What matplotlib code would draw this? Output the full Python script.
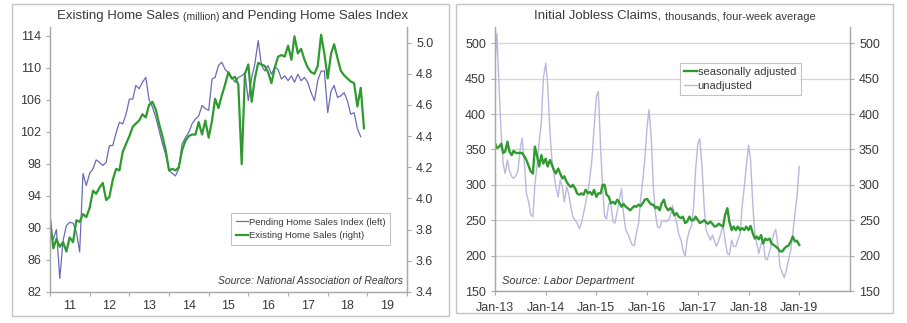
import numpy as np
import pandas as pd
import matplotlib
matplotlib.use("Agg")
import matplotlib.pyplot as plt
import matplotlib.dates as mdates
from matplotlib.patches import Rectangle
from matplotlib.text import Annotation

plt.rcParams['font.family'] = ['Liberation Sans', 'DejaVu Sans']

# Pending home sales index (left scale), monthly from Jan 2011
pending = [89.7, 88.6, 89.8, 83.7, 88.4, 90.3, 90.7, 90.6, 89.5, 87.0,
           96.8, 95.3, 96.8, 97.4, 98.5, 98.2, 97.8, 98.2, 100.3, 100.3,
           101.9, 103.2, 103.0, 104.2, 106.1, 106.1, 107.8, 107.4, 108.2, 108.8,
           106.0, 105.1, 103.8, 102.2, 100.5, 99.2, 97.2, 96.8, 96.5, 97.4,
           100.5, 101.3, 101.9, 103.0, 103.6, 104.0, 105.3, 104.9, 104.7, 108.6,
           108.8, 110.3, 110.7, 109.8, 109.4, 108.8, 108.2, 108.8, 109.0, 109.4,
           105.9, 108.8, 110.5, 113.4, 110.3, 109.6, 110.3, 109.2, 110.1, 109.8,
           108.6, 109.0, 108.4, 109.0, 108.2, 109.2, 108.4, 108.8, 108.2, 106.9,
           105.9, 108.4, 109.6, 109.6, 104.4, 107.1, 107.8, 106.3, 106.5, 106.9,
           105.9, 104.2, 104.4, 102.4, 101.4]

# Existing home sales, million (right scale), monthly from Jan 2011
existing = [3.87, 3.68, 3.74, 3.69, 3.72, 3.66, 3.75, 3.72, 3.86, 3.85,
            3.90, 3.88, 3.94, 4.05, 4.03, 4.07, 4.10, 3.99, 4.01, 4.12,
            4.19, 4.18, 4.30, 4.35, 4.40, 4.46, 4.48, 4.50, 4.54, 4.52,
            4.60, 4.62, 4.57, 4.48, 4.40, 4.31, 4.18, 4.19, 4.18, 4.20,
            4.31, 4.37, 4.40, 4.41, 4.41, 4.49, 4.41, 4.50, 4.39, 4.50,
            4.64, 4.58, 4.66, 4.73, 4.81, 4.77, 4.78, 4.73, 4.22, 4.80,
            4.86, 4.62, 4.77, 4.87, 4.86, 4.85, 4.81, 4.74, 4.84, 4.91,
            4.92, 4.91, 4.98, 4.89, 5.04, 4.93, 4.96, 4.89, 4.84, 4.81,
            4.80, 4.85, 5.05, 4.93, 4.77, 4.93, 4.99, 4.90, 4.82, 4.79,
            4.77, 4.75, 4.74, 4.59, 4.71, 4.45]

# Initial jobless claims, thousands, 4-wk avg, twice a month from Jan 2013
claims_sa = [359, 352, 354, 358, 345, 347, 361, 347, 342, 348, 345, 345,
             345, 345, 340, 335, 326, 319, 316, 354, 340, 326, 342, 330,
             337, 326, 335, 328, 321, 316, 323, 316, 309, 312, 304, 300,
             297, 300, 295, 288, 286, 288, 286, 293, 288, 290, 286, 293,
             283, 288, 288, 300, 300, 286, 283, 274, 276, 273, 279, 275,
             269, 273, 269, 267, 264, 267, 270, 269, 272, 270, 274, 279,
             280, 276, 272, 272, 267, 269, 264, 274, 279, 269, 264, 267,
             264, 257, 260, 255, 253, 255, 246, 248, 255, 250, 250, 255,
             250, 246, 248, 250, 247, 245, 248, 245, 241, 242, 245, 243,
             241, 257, 267, 248, 236, 241, 236, 241, 236, 239, 236, 241,
             236, 242, 231, 224, 227, 223, 229, 217, 224, 222, 224, 217,
             215, 213, 210, 206, 206, 210, 213, 214, 220, 227, 220, 221,
             215]
claims_nsa = [470, 514, 430, 370, 330, 316, 335, 320, 312, 309, 313, 320,
              350, 366, 330, 288, 275, 258, 255, 300, 330, 360, 390, 450,
              472, 443, 373, 335, 316, 297, 283, 307, 297, 276, 297, 288,
              269, 255, 250, 246, 238, 246, 260, 274, 290, 310, 338, 380,
              425, 432, 350, 297, 255, 252, 274, 272, 248, 246, 264, 279,
              295, 260, 236, 231, 222, 215, 214, 231, 246, 279, 307, 335,
              382, 406, 363, 297, 260, 241, 239, 248, 250, 248, 250, 255,
              271, 260, 246, 231, 222, 208, 199, 222, 236, 241, 269, 321,
              359, 365, 321, 269, 236, 229, 222, 229, 220, 213, 222, 231,
              243, 222, 203, 201, 222, 213, 213, 222, 231, 269, 297, 326,
              356, 335, 269, 231, 217, 203, 217, 222, 196, 194, 206, 217,
              231, 237, 213, 184, 175, 169, 180, 194, 208, 231, 260, 283,
              326]

months_p = pd.date_range('2011-01-01', periods=len(pending), freq='MS')
months_e = pd.date_range('2011-01-01', periods=len(existing), freq='MS')
halfmonths = pd.date_range('2013-01-01', periods=len(claims_sa), freq='SMS')

W, H = 907, 323
GREEN = '#2f9a2f'
PEND = '#6b6bb5'
LAV = '#b9b9dd'
SPINE = '#a9a9a9'
TXT = '#3a3a3a'

fig = plt.figure(figsize=(W / 100, H / 100), dpi=100)


def box(x0, y0, x1, y1):
    fig.patches.append(Rectangle((x0 / W, 1 - y1 / H), (x1 - x0) / W, (y1 - y0) / H,
                                 transform=fig.transFigure, fill=False,
                                 edgecolor='#c4c4c4', lw=1.0))


def style(ax):
    ax.spines['top'].set_visible(False)
    for s in ['left', 'right', 'bottom']:
        ax.spines[s].set_color(SPINE)
        ax.spines[s].set_linewidth(0.9)
    ax.tick_params(colors=SPINE, labelcolor=TXT, labelsize=9, length=3, width=0.8)


def title(x, y, parts):
    # pieces of mixed size, each one placed right after the previous
    prev = fig.text(x / W, 1 - y / H, parts[0][0], fontsize=parts[0][1],
                    color=TXT, va='bottom')
    for txt, size in parts[1:]:
        prev = fig.add_artist(Annotation(txt, xy=(1, 0), xycoords=prev, va='bottom',
                                         fontsize=size, color=TXT, annotation_clip=False))


box(12, 4, 449, 316)
box(456, 4, 893, 313)

# ---- left panel ----
ax1 = fig.add_axes([50 / W, 1 - 292 / H, 357 / W, 265 / H])
ax1r = ax1.twinx()
l1, = ax1.plot(months_p, pending, color=PEND, lw=0.9, label='Pending Home Sales Index (left)')
l2, = ax1r.plot(months_e, existing, color=GREEN, lw=1.6, label='Existing Home Sales (right)')
ax1.set_ylim(82, 115.1)
ax1.set_yticks(np.arange(82, 115, 4))
ax1r.set_ylim(3.4, 5.1)
ax1r.set_yticks(np.arange(3.4, 5.01, 0.2))
ax1r.yaxis.set_major_formatter(plt.FormatStrFormatter('%.1f'))
ax1.set_xlim(pd.Timestamp('2011-01-01'), pd.Timestamp('2020-01-01'))
ax1.xaxis.set_major_locator(mdates.YearLocator())
ax1.xaxis.set_major_formatter(plt.NullFormatter())
ax1.xaxis.set_minor_locator(mdates.MonthLocator(bymonth=7))
ax1.xaxis.set_minor_formatter(mdates.DateFormatter('%y'))
for a in (ax1, ax1r):
    style(a)
ax1.tick_params(axis='x', which='minor', length=0, labelsize=9, labelcolor=TXT, pad=6)
ax1.legend(handles=[l1, l2], loc='lower left', bbox_to_anchor=(0.507, 0.177),
           borderaxespad=0, fontsize=6.8, frameon=True, fancybox=False,
           edgecolor='#b5b5b5', handlelength=1.3, handletextpad=0.1,
           borderpad=0.5, labelspacing=0.5, labelcolor=TXT)
ax1.legend_.get_frame().set_linewidth(0.8)
ax1.text(0.989, 0.042, 'Source: National Association of Realtors', transform=ax1.transAxes,
         ha='right', va='center', fontsize=7.5, style='italic', color=TXT)

title(57, 22, [('Existing Home Sales ', 9.5), ('(million) ', 7.5),
               ('and Pending Home Sales Index', 9.5)])

# ---- right panel ----
ax2 = fig.add_axes([495 / W, 1 - 291 / H, 355 / W, 264 / H])
ax2r = ax2.twinx()
ax2.yaxis.grid(True, color='#d6d6d6', lw=0.9)
ax2.set_axisbelow(True)
s1, = ax2.plot(halfmonths, claims_nsa, color=LAV, lw=1.0, label='unadjusted')
s2, = ax2.plot(halfmonths, claims_sa, color=GREEN, lw=1.7, label='seasonally adjusted')
for a in (ax2, ax2r):
    a.set_ylim(150, 523)
    a.set_yticks(np.arange(150, 501, 50))
    style(a)
ax2.set_xlim(pd.Timestamp('2013-01-01'), pd.Timestamp('2020-01-01'))
ax2.set_xticks(pd.date_range('2013-01-01', '2019-01-01', freq='YS'))
ax2.xaxis.set_major_formatter(mdates.DateFormatter('%b-%y'))
ax2.tick_params(axis='x', pad=5)
ax2.legend(handles=[s2, s1], loc='upper left', bbox_to_anchor=(0.521, 0.864),
           borderaxespad=0, fontsize=8, frameon=True, fancybox=False,
           edgecolor='#b5b5b5', handlelength=1.1, handletextpad=0.1,
           borderpad=0.4, labelspacing=0.3, labelcolor=TXT)
ax2.legend_.get_frame().set_linewidth(0.8)
ax2.text(0.02, 0.038, 'Source: Labor Department', transform=ax2.transAxes,
         ha='left', va='center', fontsize=8, style='italic', color=TXT)

title(534, 22, [('Initial Jobless Claims, ', 9.5), ('thousands, four-week average', 8)])

fig.savefig('out.png', dpi=100)
